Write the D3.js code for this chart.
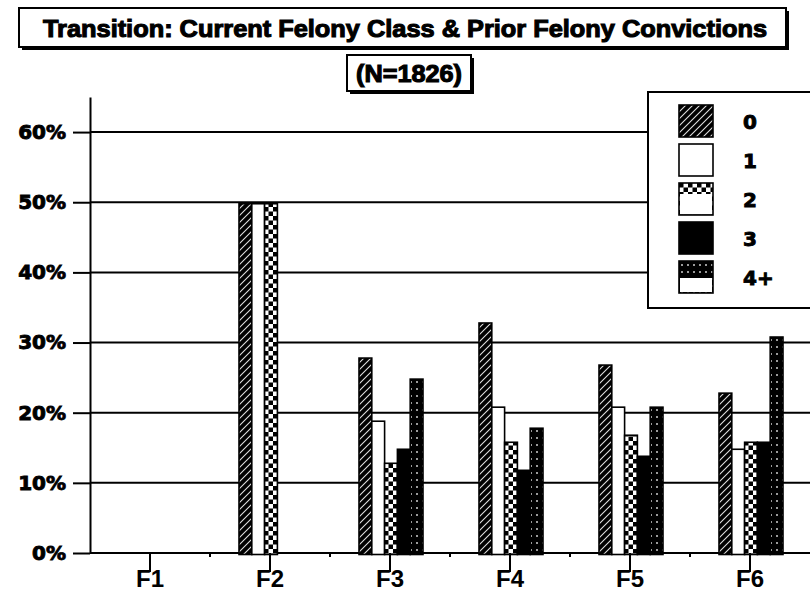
<!DOCTYPE html>
<html lang="en">
<head>
  <meta charset="UTF-8">
  <title>Transition: Current Felony Class & Prior Felony Convictions</title>
  <script src="https://d3js.org/d3.v7.min.js"></script>
  <style>
    body { margin: 0; background: #fff; }
    svg { display: block; }
    .big { font-family: "Liberation Sans", Arial, sans-serif; font-weight: bold; }
    .heavy { font-family: "DejaVu Sans", sans-serif; font-weight: bold; stroke: #000; stroke-width: 0.9; }
    .title { font-family: "Liberation Sans Narrow", "Liberation Sans", Arial, sans-serif; font-weight: bold; stroke: #000; stroke-width: 1.1; }
  </style>
</head>
<body>
  <svg id="chart" width="810" height="613"></svg>

  <script>
    // data (percent of cases)
    const classes = ["F1", "F2", "F3", "F4", "F5", "F6"];
    const priors = ["0", "1", "2", "3", "4+"];
    const prior0 = [0, 50, 28, 33, 27, 23];
    const prior1 = [0, 50, 19, 21, 21, 15];
    const prior2 = [0, 50, 13, 16, 17, 16];
    const prior3 = [0, 0, 15, 12, 14, 16];
    const prior4 = [0, 0, 25, 18, 21, 31];
    const yTicks = [0, 10, 20, 30, 40, 50, 60];

    const series = [prior0, prior1, prior2, prior3, prior4];
    const rows = classes.map((c, i) => ({
      cls: c,
      values: priors.map((p, j) => ({ key: p, value: series[j][i] }))
    }));

    const svg = d3.select("#chart");
    const W = +svg.attr("width");

    const margin = { top: 97, left: 90, bottom: 553 };

    // patterns
    const defs = svg.append("defs");

    const hatch = defs.append("pattern")
      .attr("id", "hatch")
      .attr("patternUnits", "userSpaceOnUse")
      .attr("width", 7).attr("height", 7);
    hatch.append("rect").attr("width", 7).attr("height", 7).attr("fill", "#000");
    hatch.append("path")
      .attr("d", "M-1,8 L8,-1 M-2,2 L2,-2 M5,9 L9,5")
      .attr("stroke", "#ddd").attr("stroke-width", 1.1);

    const checker = defs.append("pattern")
      .attr("id", "checker")
      .attr("patternUnits", "userSpaceOnUse")
      .attr("width", 9).attr("height", 9);
    checker.append("rect").attr("width", 9).attr("height", 9).attr("fill", "#fff");
    checker.append("rect").attr("width", 4.5).attr("height", 4.5).attr("fill", "#000");
    checker.append("rect").attr("x", 4.5).attr("y", 4.5).attr("width", 4.5).attr("height", 4.5).attr("fill", "#000");

    const dots = defs.append("pattern")
      .attr("id", "dots")
      .attr("patternUnits", "userSpaceOnUse")
      .attr("width", 6).attr("height", 7);
    dots.append("rect").attr("width", 6).attr("height", 7).attr("fill", "#000");
    dots.append("rect").attr("x", 2).attr("y", 3).attr("width", 2).attr("height", 2).attr("fill", "#9a9a9a");

    const fills = { "0": "url(#hatch)", "1": "#fff", "2": "url(#checker)", "3": "#000", "4+": "url(#dots)" };

    // scales
    const x0 = d3.scaleBand().domain(classes).range([margin.left, W]);
    const x1 = d3.scaleBand().domain(priors).range([29, 93]);
    const y = d3.scaleLinear().domain([0, 65]).range([margin.bottom, margin.top]);

    // grid lines
    svg.append("g").selectAll("line")
      .data(yTicks)
      .join("line")
      .attr("x1", margin.left).attr("x2", W)
      .attr("y1", d => y(d)).attr("y2", d => y(d))
      .attr("stroke", "#000").attr("stroke-width", 2);

    // y axis
    const yAxis = svg.append("g")
      .attr("transform", `translate(${margin.left},0)`)
      .call(d3.axisLeft(y).tickValues(yTicks).tickSize(17).tickSizeOuter(0).tickPadding(7).tickFormat(d => d + "%"));
    yAxis.selectAll("path, line").attr("stroke", "#000").attr("stroke-width", 2);
    yAxis.selectAll("text")
      .attr("class", "heavy")
      .attr("font-size", 20)
      .attr("fill", "#000");

    // bars
    const groups = svg.append("g").selectAll("g")
      .data(rows)
      .join("g")
      .attr("transform", d => `translate(${x0(d.cls)},0)`);

    groups.selectAll("rect")
      .data(d => d.values)
      .join("rect")
      .attr("x", d => x1(d.key))
      .attr("width", x1.bandwidth())
      .attr("y", d => y(d.value) + 1.5)
      .attr("height", d => y(0) - y(d.value))
      .attr("fill", d => fills[d.key])
      .attr("stroke", "#000")
      .attr("stroke-width", 1.6);

    // x axis ticks
    const xAxis = svg.append("g");
    xAxis.selectAll("line.mid")
      .data(classes)
      .join("line")
      .attr("class", "mid")
      .attr("x1", d => x0(d) + x0.bandwidth() / 2).attr("x2", d => x0(d) + x0.bandwidth() / 2)
      .attr("y1", y(0)).attr("y2", y(0) + 19)
      .attr("stroke", "#000").attr("stroke-width", 2);
    xAxis.selectAll("line.sep")
      .data(classes.slice(1))
      .join("line")
      .attr("class", "sep")
      .attr("x1", d => x0(d)).attr("x2", d => x0(d))
      .attr("y1", y(0)).attr("y2", y(0) + 4)
      .attr("stroke", "#000").attr("stroke-width", 2);
    xAxis.selectAll("text")
      .data(classes)
      .join("text")
      .attr("class", "big")
      .attr("x", d => x0(d) + x0.bandwidth() / 2)
      .attr("y", 587)
      .attr("text-anchor", "middle")
      .attr("font-size", 24)
      .text(d => d);

    // boxed titles with drop shadow
    function shadowBox(x, yy, w, h) {
      svg.append("rect").attr("x", x + 3).attr("y", yy + 3).attr("width", w).attr("height", h).attr("fill", "#000");
      svg.append("rect").attr("x", x).attr("y", yy).attr("width", w).attr("height", h)
        .attr("fill", "#fff").attr("stroke", "#000").attr("stroke-width", 2);
    }

    shadowBox(19, 8, 767, 39);
    svg.append("text")
      .attr("class", "title")
      .attr("x", 405).attr("y", 37)
      .attr("text-anchor", "middle")
      .attr("font-size", 24)
      .attr("textLength", 724)
      .attr("lengthAdjust", "spacingAndGlyphs")
      .text("Transition: Current Felony Class & Prior Felony Convictions");

    shadowBox(347, 55, 124, 36);
    svg.append("text")
      .attr("class", "title")
      .attr("x", 409).attr("y", 82)
      .attr("text-anchor", "middle")
      .attr("font-size", 24)
      .attr("textLength", 106)
      .attr("lengthAdjust", "spacingAndGlyphs")
      .text("(N=1826)");

    // legend
    const legend = svg.append("g");
    legend.append("rect")
      .attr("x", 648).attr("y", 92).attr("width", 180).attr("height", 216)
      .attr("fill", "#fff").attr("stroke", "#000").attr("stroke-width", 2);

    const partial = { "2": 11, "4+": 17 };
    const items = legend.selectAll("g")
      .data(priors)
      .join("g")
      .attr("transform", (d, i) => `translate(679,${105 + i * 39})`);
    items.append("rect")
      .attr("width", 34).attr("height", 32)
      .attr("fill", d => fills[d])
      .attr("stroke", "#000").attr("stroke-width", 1.6);
    items.filter(d => partial[d])
      .append("rect")
      .attr("x", 1).attr("y", d => partial[d])
      .attr("width", 32).attr("height", d => 31 - partial[d])
      .attr("fill", "#fff");
    items.append("text")
      .attr("class", "heavy")
      .attr("x", 64).attr("y", 24)
      .attr("font-size", 20)
      .text(d => d);
  </script>
</body>
</html>
